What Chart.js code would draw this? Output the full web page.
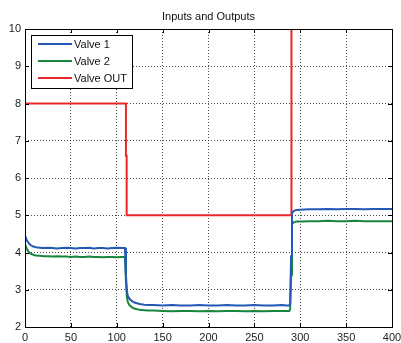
<!DOCTYPE html>
<html>
<head>
<meta charset="utf-8">
<script src="https://cdn.jsdelivr.net/npm/chart.js@4"></script>
<style>
html, body { margin: 0; padding: 0; background: #fff; }
</style>
</head>
<body>
<canvas id="myChart" width="401" height="343"></canvas>
<script>
const titleText = 'Inputs and Outputs';
const labels = ['Valve 1', 'Valve 2', 'Valve OUT'];

// sample times of the two valve signals
const timeS = [0, 2, 4, 6, 9, 12, 16, 20,
  25, 30, 35, 40, 45, 50, 55, 60, 65, 70, 75, 80, 85, 90, 95, 100, 105,
  109, 110, 111, 112, 114, 117, 120, 125, 130, 135, 140,
  150, 160, 170, 180, 190, 200, 210, 220, 230, 240, 250, 260, 270, 280,
  285, 288, 289, 290, 291, 293, 296, 300,
  310, 320, 330, 340, 350, 360, 370, 380, 390, 400];

const valve1 = [4.45, 4.33, 4.25, 4.2, 4.16, 4.14, 4.13, 4.12,
  4.13, 4.12, 4.11, 4.12, 4.13, 4.12, 4.11, 4.12, 4.12, 4.13, 4.11, 4.12, 4.12, 4.11, 4.12, 4.13, 4.12,
  4.12, 3.4, 2.98, 2.84, 2.75, 2.69, 2.65, 2.62, 2.6, 2.59, 2.59,
  2.58, 2.59, 2.58, 2.58, 2.59, 2.58, 2.58, 2.59, 2.58, 2.58, 2.59, 2.58, 2.58, 2.59,
  2.58, 2.58, 2.62, 3.9, 5.06, 5.12, 5.14, 5.15,
  5.16, 5.16, 5.17, 5.16, 5.17, 5.17, 5.16, 5.17, 5.17, 5.17];

const valve2 = [4.22, 4.1, 4.02, 3.97, 3.94, 3.92, 3.91, 3.9,
  3.9, 3.89, 3.9, 3.89, 3.89, 3.88, 3.89, 3.88, 3.88, 3.89, 3.88, 3.88, 3.87, 3.88, 3.88, 3.87, 3.88,
  3.88, 3.25, 2.82, 2.67, 2.58, 2.52, 2.49, 2.46, 2.45, 2.44, 2.44,
  2.43, 2.42, 2.43, 2.43, 2.42, 2.43, 2.42, 2.43, 2.43, 2.42, 2.43, 2.42, 2.43, 2.43,
  2.43, 2.43, 2.47, 3.4, 4.76, 4.81, 4.83, 4.83,
  4.84, 4.84, 4.85, 4.84, 4.84, 4.85, 4.84, 4.84, 4.84, 4.84];

// output valve is a step signal
const timeOut = [0, 110, 110, 110.8, 110.8, 290, 290, 290.6, 290.6, 400];
const valveOut = [8, 8, 6.6, 6.6, 5, 5, 7.4, 7.4, 12, 12];

const xTicks = [0, 50, 100, 150, 200, 250, 300, 350, 400];
const yTicks = [2, 3, 4, 5, 6, 7, 8, 9, 10];

const colors = ['rgb(35,88,182)', 'rgb(24,134,62)', 'rgb(236,38,42)'];

function toPoints(xs, ys) {
  return xs.map((x, i) => ({ x: x, y: ys[i] }));
}

const font = 'Liberation Sans, Arial, sans-serif';

const matlabBox = {
  id: 'matlabBox',
  afterDraw(chart) {
    const c = chart.ctx;
    const a = chart.chartArea;
    const xs = chart.scales.x, ys = chart.scales.y;
    c.save();
    c.strokeStyle = '#000';
    c.lineWidth = 1;
    c.strokeRect(Math.round(a.left) + 0.5, Math.round(a.top) + 0.5,
      Math.round(a.right - a.left), Math.round(a.bottom - a.top));
    // inward ticks
    c.beginPath();
    xTicks.forEach(v => {
      const px = Math.round(xs.getPixelForValue(v)) + 0.5;
      c.moveTo(px, a.bottom); c.lineTo(px, a.bottom - 4);
      c.moveTo(px, a.top); c.lineTo(px, a.top + 4);
    });
    yTicks.forEach(v => {
      const py = Math.round(ys.getPixelForValue(v)) + 0.5;
      c.moveTo(a.left, py); c.lineTo(a.left + 4, py);
      c.moveTo(a.right, py); c.lineTo(a.right - 4, py);
    });
    c.stroke();

    // title
    c.fillStyle = '#111';
    c.font = '11px ' + font;
    c.textAlign = 'center';
    c.textBaseline = 'middle';
    c.fillText(titleText, (a.left + a.right) / 2, 16.5);

    // legend
    const lx = 31.5, ly = 35.5, lw = 101, lh = 53;
    c.fillStyle = '#fff';
    c.fillRect(lx, ly, lw, lh);
    c.strokeStyle = '#000';
    c.strokeRect(lx, ly, lw, lh);
    chart.data.datasets.forEach((ds, i) => {
      const y = 44 + i * 17;
      c.strokeStyle = ds.borderColor;
      c.lineWidth = 2;
      c.beginPath();
      c.moveTo(38, y); c.lineTo(72, y);
      c.stroke();
      c.fillStyle = '#111';
      c.textAlign = 'left';
      c.fillText(ds.label, 74, y + 0.5);
    });
    c.restore();
  }
};

new Chart(document.getElementById('myChart'), {
  type: 'line',
  data: {
    datasets: [
      { label: labels[0], data: toPoints(timeS, valve1), borderColor: colors[0] },
      { label: labels[1], data: toPoints(timeS, valve2), borderColor: colors[1] },
      { label: labels[2], data: toPoints(timeOut, valveOut), borderColor: colors[2] }
    ]
  },
  options: {
    responsive: false,
    animation: false,
    layout: { padding: { top: 29, right: 9, left: 0, bottom: 0 } },
    elements: {
      point: { radius: 0 },
      line: { borderWidth: 2, tension: 0 }
    },
    plugins: {
      legend: { display: false },
      title: { display: false },
      tooltip: { enabled: false }
    },
    scales: {
      x: {
        type: 'linear',
        min: 0,
        max: 400,
        afterBuildTicks: s => { s.ticks = xTicks.map(v => ({ value: v })); },
        afterFit: s => { s.height = 16; s.paddingLeft = 0; s.paddingRight = 0; },
        grid: { color: 'rgba(0,0,0,0.7)', drawTicks: false },
        border: { display: false, dash: [1, 2] },
        ticks: { padding: 4, maxRotation: 0, color: '#222', font: { family: font, size: 11 } }
      },
      y: {
        min: 2,
        max: 10,
        afterBuildTicks: s => { s.ticks = yTicks.map(v => ({ value: v })); },
        afterFit: s => { s.width = 25; s.paddingTop = 0; s.paddingBottom = 0; },
        grid: { color: 'rgba(0,0,0,0.7)', drawTicks: false },
        border: { display: false, dash: [1, 2] },
        ticks: { padding: 4, color: '#222', font: { family: font, size: 11 } }
      }
    }
  },
  plugins: [matlabBox]
});
</script>
</body>
</html>
